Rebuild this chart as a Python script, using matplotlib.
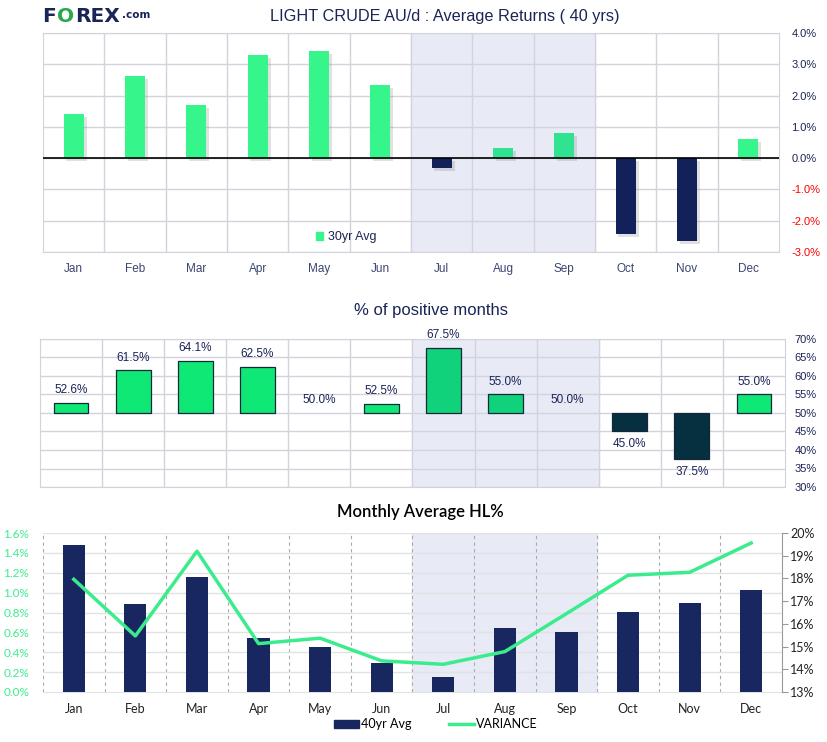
import numpy as np
import matplotlib
matplotlib.use("Agg")
import matplotlib.pyplot as plt
import matplotlib.patheffects as pe
from matplotlib.patches import Patch
from matplotlib.lines import Line2D

plt.rcParams['font.family'] = ['Liberation Sans', 'DejaVu Sans']

# данные
months = ['Jan', 'Feb', 'Mar', 'Apr', 'May', 'Jun',
          'Jul', 'Aug', 'Sep', 'Oct', 'Nov', 'Dec']
avg_returns = [1.41, 2.62, 1.69, 3.29, 3.42, 2.33,
               -0.32, 0.32, 0.80, -2.43, -2.65, 0.61]
pct_positive = [52.6, 61.5, 64.1, 62.5, 50.0, 52.5,
                67.5, 55.0, 50.0, 45.0, 37.5, 55.0]
hl_avg = [1.48, 0.89, 1.16, 0.54, 0.45, 0.29,
          0.15, 0.64, 0.60, 0.81, 0.90, 1.03]
variance = [17.96, 15.47, 19.2, 15.13, 15.37, 14.37,
            14.22, 14.78, 16.45, 18.14, 18.27, 19.56]
shaded = ['Jul', 'Aug', 'Sep']

NAVY = '#1a2456'
GRID = '#d2d3dc'
SHADE = '#e8eaf5'
GREEN = '#3bec8d'
LATO = ['Lato', 'DejaVu Sans']

x = np.arange(len(months))
in_shade = np.array([m in shaded for m in months])
s0 = months.index(shaded[0]) - 0.5
s1 = months.index(shaded[-1]) + 0.5

fig = plt.figure(figsize=(8.28, 7.42), dpi=100)
renderer = fig.canvas.get_renderer()

# логотип: куски текста друг за другом
def logo_part(xpx, s, color, size, ypx=16):
    t = fig.text(xpx/828, 1 - ypx/742, s, fontsize=size, fontweight='heavy', color=color,
                 family='DejaVu Sans', va='center')
    bb = t.get_window_extent(renderer)
    return bb.x1

xx = logo_part(42, 'F', NAVY, 14.5)
xx = logo_part(xx + 1, 'O', '#2aa84a', 14.5)
xx = logo_part(xx + 1, 'REX', NAVY, 14.5)
logo_part(xx + 2, '.com', NAVY, 7.5, ypx=15)

# ---------- верхний график ----------
ax1 = fig.add_axes([43/828, 1 - 252/742, 736/828, 219/742])
ax1.axvspan(s0, s1, color=SHADE, zorder=0)
for i in range(len(months) - 1):
    ax1.axvline(i + 0.5, color=GRID, lw=1, zorder=1)
for v in range(-3, 5):
    ax1.axhline(v, color=GRID, lw=1, zorder=1)
cols = []
for v, s in zip(avg_returns, in_shade):
    if v < 0:
        cols.append('#13215b')
    else:
        cols.append('#30e391' if s else '#36f58b')
bars = ax1.bar(x, avg_returns, width=0.33, color=cols, zorder=3)
for b in bars:
    b.set_path_effects([pe.SimplePatchShadow(offset=(2, -2), shadow_rgbFace='#888888', alpha=0.25),
                        pe.Normal()])
ax1.axhline(0, color='black', lw=1.2, zorder=4)
ax1.set_xlim(-0.5, 11.5)
ax1.set_ylim(-3, 4)
ax1.set_xticks(x)
ax1.set_xticklabels(months, fontsize=8.5, color='#3a4570')
ax1.yaxis.tick_right()
ax1.set_yticks(range(-3, 5))
ax1.set_yticklabels([f'{v:.1f}%' for v in range(-3, 5)], fontsize=8)
for lab, v in zip(ax1.get_yticklabels(), range(-3, 5)):
    lab.set_color('red' if v < 0 else NAVY)
ax1.tick_params(axis='both', length=0)
ax1.tick_params(axis='x', pad=8)
ax1.tick_params(axis='y', pad=9)
for sp in ax1.spines.values():
    sp.set_color(GRID)
ax1.legend(handles=[Patch(color='#36f58b', label='30yr Avg')], loc='lower left',
           bbox_to_anchor=(0.355, -0.01), frameon=False, fontsize=9,
           handlelength=0.6, handleheight=0.6, handletextpad=0.4,
           labelcolor=NAVY)
fig.text(445/828, 1 - 17/742, 'LIGHT CRUDE AU/d : Average Returns ( 40 yrs)',
         fontsize=11.7, color=NAVY, ha='center', va='center')

# ---------- средний график ----------
ax2 = fig.add_axes([40/828, 1 - 487/742, 745/828, 148/742])
ax2.axvspan(s0, s1, color=SHADE, zorder=0)
for i in range(len(months) - 1):
    ax2.axvline(i + 0.5, color=GRID, lw=1, zorder=1)
for v in range(30, 75, 5):
    ax2.axhline(v, color=GRID, lw=1, zorder=1)
cols2 = []
for v, s in zip(pct_positive, in_shade):
    if v < 50:
        cols2.append('#06303f')
    else:
        cols2.append('#10d27a' if s else '#10e876')
heights = np.array(pct_positive) - 50
bars2 = ax2.bar(x, heights, bottom=50, width=0.56, color=cols2, edgecolor='#14283a',
                linewidth=0.9, zorder=3)
for b, h in zip(bars2, heights):
    if h == 0:
        b.set_linewidth(0)
for xi, v in zip(x, pct_positive):
    if v >= 50:
        ax2.annotate(f'{v:.1f}%', (xi, v), xytext=(0, 5), textcoords='offset points',
                     ha='center', va='bottom', fontsize=8.5, color=NAVY, zorder=5)
    else:
        ax2.annotate(f'{v:.1f}%', (xi, v), xytext=(0, -5), textcoords='offset points',
                     ha='center', va='top', fontsize=8.5, color=NAVY, zorder=5)
ax2.set_xlim(-0.5, 11.5)
ax2.set_ylim(30, 70)
ax2.set_xticks([])
ax2.yaxis.tick_right()
ax2.set_yticks(range(30, 75, 5))
ax2.set_yticklabels([f'{v}%' for v in range(30, 75, 5)], fontsize=8, color=NAVY)
ax2.tick_params(axis='y', length=0, pad=7)
for sp in ax2.spines.values():
    sp.set_color(GRID)
fig.text(431/828, 1 - 310/742, '% of positive months', fontsize=12, color=NAVY,
         ha='center', va='center')

# ---------- нижний график ----------
ax3 = fig.add_axes([43/828, 1 - 692/742, 739/828, 159/742])
ax3.axvspan(s0, s1, color=SHADE, zorder=0)
for i in range(-1, len(months) - 1):
    ax3.axvline(i + 0.5, color='#aaaaaa', lw=0.8, ls=(0, (3, 3)), zorder=1)
for v in np.arange(0.2, 1.7, 0.2):
    ax3.axhline(v, color='#dfe3e3', lw=1, zorder=1)
ax3.bar(x, hl_avg, width=0.36, color='#18275f', zorder=3)
ax3.set_xlim(-0.5, 11.5)
ax3.set_ylim(0, 1.6)
ax3.set_xticks(x)
ax3.set_xticklabels(months, fontsize=9, color='#222222', family=LATO)
ax3.set_yticks(np.arange(0, 1.7, 0.2))
ax3.set_yticklabels([f'{v:.1f}%' for v in np.arange(0, 1.7, 0.2)], fontsize=8.5,
                    color=GREEN, family=LATO)
ax3.tick_params(axis='both', length=0)
ax3.tick_params(axis='x', pad=8)
ax3.tick_params(axis='y', pad=10)
for sp in ['top', 'left', 'right']:
    ax3.spines[sp].set_visible(False)
ax3.spines['bottom'].set_color('#dfe3e3')

ax4 = ax3.twinx()
ax4.plot(x, variance, color=GREEN, lw=2.5, zorder=5)
ax4.set_ylim(13, 20)
ax4.set_yticks(range(13, 21))
ax4.set_yticklabels([f'{v}%' for v in range(13, 21)], fontsize=9, color='#222222',
                    family=LATO)
ax4.tick_params(axis='y', length=4, color='#999999', pad=2)
for sp in ['top', 'left', 'bottom']:
    ax4.spines[sp].set_visible(False)
ax4.spines['right'].set_color('#999999')
fig.text(420/828, 1 - 512/742, 'Monthly Average HL%', fontsize=12, color='black',
         ha='center', va='center', family=LATO, fontweight='semibold')

fig.legend(handles=[Patch(color='#18275f', label='40yr Avg'),
                    Line2D([0], [0], color=GREEN, lw=2.5, label='VARIANCE')],
           loc='center', bbox_to_anchor=(436/828, 1 - 724/742), ncol=2, frameon=False,
           handlelength=2.0, handleheight=0.6, handletextpad=0.15,
           columnspacing=3.0, prop={'family': LATO, 'size': 9})

fig.savefig('out.png', dpi=100)
